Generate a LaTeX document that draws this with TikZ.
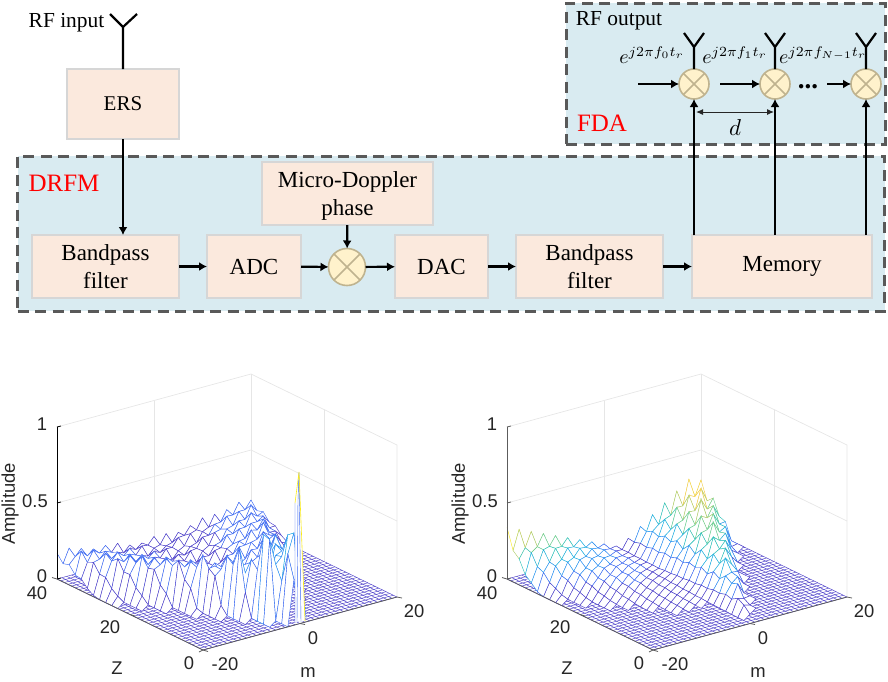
\documentclass[tikz,border=0pt]{standalone}
\usepackage{fontspec}
\setmainfont{Liberation Serif}
\newfontfamily\plotfont{Liberation Sans}
\usetikzlibrary{arrows.meta,calc}
\definecolor{panel}{HTML}{D9EBF1}
\definecolor{dashc}{HTML}{595959}
\definecolor{boxfill}{HTML}{FBE9DD}
\definecolor{boxline}{HTML}{D6D6D6}
\definecolor{mixfill}{HTML}{FFF2CC}
\definecolor{mixline}{HTML}{BFB38F}
\definecolor{gridc}{HTML}{E6E6E6}
\definecolor{tickc}{HTML}{262626}
\definecolor{pc0}{rgb}{.27,.22,.78}
\definecolor{pc1}{rgb}{.22,.40,.95}
\definecolor{pc2}{rgb}{.13,.55,.95}
\definecolor{pc3}{rgb}{.10,.68,.88}
\definecolor{pc4}{rgb}{.15,.75,.72}
\definecolor{pc5}{rgb}{.40,.80,.55}
\definecolor{pc6}{rgb}{.68,.80,.40}
\definecolor{pc7}{rgb}{.95,.80,.25}
\definecolor{pc8}{rgb}{.98,.92,.10}
\tikzset{
  panelbox/.style={draw=dashc,fill=panel,line width=3pt,dash pattern=on 11pt off 6.5pt},
  block/.style={draw=boxline,fill=boxfill,line width=2pt,align=center,inner sep=0pt,outer sep=0pt,
    font=\fontsize{23}{28}\selectfont},
  mixer/.style={circle,draw=mixline,fill=mixfill,line width=1.6pt,inner sep=0pt,outer sep=0pt,
    path picture={\draw[mixline,line width=1.6pt]
      (path picture bounding box.north west)--(path picture bounding box.south east)
      (path picture bounding box.north east)--(path picture bounding box.south west);}},
  conn/.style={-{Latex[length=8pt,width=9pt]},line width=2.2pt,black},
  plain/.style={line width=2.2pt,black},
  lab/.style={inner sep=0pt,outer sep=0pt,font=\fontsize{21.4}{26}\selectfont},
  redlab/.style={inner sep=0pt,outer sep=0pt,text=red,font=\fontsize{25}{28}\selectfont},
  ptext/.style={inner sep=0pt,outer sep=0pt,text=tickc,font=\plotfont\fontsize{18.4}{20}\selectfont},
  gridl/.style={gridc,line width=.7pt},
  meshl/.style={line width=.42pt},
}
% flat floor of a surface plot; #1 x offset
\newcommand\floormesh[1]{%
  \begin{scope}[shift={(#1,0)}]
    \fill[white] (653,650)--(847,597)--(701,526)--(507,579)--cycle;
    \foreach \t in {0,...,40}{%
      \pgfmathsetmacro\ax{653+194*\t/40}\pgfmathsetmacro\ay{650-53*\t/40}%
      \pgfmathsetmacro\bx{\ax-146}\pgfmathsetmacro\by{\ay-71}%
      \draw[pc0,meshl] (\ax,\ay)--(\bx,\by);
      \pgfmathsetmacro\ax{653-146*\t/40}\pgfmathsetmacro\ay{650-71*\t/40}%
      \pgfmathsetmacro\bx{\ax+194}\pgfmathsetmacro\by{\ay-53}%
      \draw[pc0,meshl] (\ax,\ay)--(\bx,\by);
    }
  \end{scope}}
% raised lattice; #1 x offset, #2 height law (\uu,\vv,\sq,\k,\n -> \zz), #3 colour range
\newcommand\wallmesh[3]{%
  \foreach \n in {0,...,24}{\foreach \k in {0,...,16}{%
    \pgfmathsetmacro\uu{\k/16}\pgfmathsetmacro\vv{1-\n/24}%
    \pgfmathsetmacro\sq{(\uu-.5)/max(\vv,.02)}%
    #2%
    \pgfmathsetmacro\px{653+#1+194*\uu-146*\vv}%
    \pgfmathsetmacro\py{650-53*\uu-71*\vv-152*\zz}%
    \expandafter\xdef\csname X\k-\n\endcsname{\px}%
    \expandafter\xdef\csname Y\k-\n\endcsname{\py}%
    \expandafter\xdef\csname Z\k-\n\endcsname{\zz}%
  }}%
  \foreach \k in {15,14,...,0}{%
    \pgfmathtruncatemacro\ka{\k+1}%
    \pgfmathtruncatemacro\lev{min(8,8*(\csname Z\k-0\endcsname+\csname Z\k-1\endcsname+\csname Z\ka-0\endcsname)/3/#3)}%
    \fill[white] (\csname X\k-0\endcsname,\csname Y\k-0\endcsname)--(\csname X\k-1\endcsname,\csname Y\k-1\endcsname)--(\csname X\ka-0\endcsname,\csname Y\ka-0\endcsname)--cycle;
    \draw[pc\lev,meshl] (\csname X\k-0\endcsname,\csname Y\k-0\endcsname)--(\csname X\k-1\endcsname,\csname Y\k-1\endcsname)--(\csname X\ka-0\endcsname,\csname Y\ka-0\endcsname);
  }%
  \foreach \n in {1,2,...,23}{\foreach \k in {15,14,...,0}{%
    \pgfmathtruncatemacro\ka{\k+1}\pgfmathtruncatemacro\na{\n+1}\pgfmathtruncatemacro\nb{\n-1}%
    \pgfmathsetmacro\zm{max(\csname Z\k-\n\endcsname,\csname Z\k-\na\endcsname,\csname Z\ka-\n\endcsname,\csname Z\ka-\nb\endcsname)}%
    \pgfmathtruncatemacro\vis{\zm>.006}%
    \ifnum\vis=1
      \pgfmathtruncatemacro\lev{min(8,8*(\csname Z\k-\n\endcsname+\csname Z\k-\na\endcsname+\csname Z\ka-\n\endcsname+\csname Z\ka-\nb\endcsname)/4/#3)}%
      \filldraw[draw=pc\lev,fill=white,meshl]
        (\csname X\k-\n\endcsname,\csname Y\k-\n\endcsname)--
        (\csname X\k-\na\endcsname,\csname Y\k-\na\endcsname)--
        (\csname X\ka-\n\endcsname,\csname Y\ka-\n\endcsname)--
        (\csname X\ka-\nb\endcsname,\csname Y\ka-\nb\endcsname)--cycle;
    \fi
  }}%
}
\newcommand\plotwalls[1]{%
  \begin{scope}[shift={(#1,0)}]
    \draw[gridl] (507,427)--(701,374)--(847,445)--(847,597);
    \draw[gridl] (507,503)--(701,450)--(847,521);
    \draw[gridl] (701,374)--(701,526);
    \draw[gridl] (604,400.5)--(604,552.5);
    \draw[gridl] (774,409.5)--(774,561.5);
  \end{scope}}
\newcommand\plotlabels[3]{%
  \begin{scope}[shift={(#1,0)}]
    \draw[#3,line width=.8pt] (507,427)--(507,579);
    \draw[#3,line width=.8pt] (507,427)--(511,426) (507,503)--(511,502) (507,579)--(511,578);
    \draw[tickc!75,line width=.8pt] (507,579)--(653,650)--(847,597);
    \draw[tickc!75,line width=.8pt] (653,650)--(658,651.5) (580,614.5)--(585,616) (507,579)--(502,577.5);
    \draw[tickc!75,line width=.8pt] (653,650)--(649,652) (750,623.5)--(755,624.5) (847,597)--(852,598);
    \node[ptext] (#2a) at (460,504) [rotate=90] {Amplitude};
    \node[ptext] (#2b) at (492,424) {1};
    \node[ptext] (#2c) at (485,501) {0.5};
    \node[ptext] (#2d) at (492,576) {0};
    \node[ptext] (#2e) at (487,593) {40};
    \node[ptext] (#2f) at (560,627) {20};
    \node[ptext] (#2g) at (639,663) {0};
    \node[ptext] (#2h) at (567,668) {Z};
    \node[ptext] (#2i) at (675,664) {-20};
    \node[ptext] (#2j) at (763,638) {0};
    \node[ptext] (#2k) at (864,611) {20};
    \node[ptext] (#2l) at (758,673) {m};
  \end{scope}}
\begin{document}
\begin{tikzpicture}[x=1pt,y=-1pt]
\useasboundingbox (0,0) rectangle (888,681);
\node[panelbox,minimum width=867pt,minimum height=155pt,inner sep=0pt] (drfm) at (451,233.5) {};
\node[panelbox,minimum width=319pt,minimum height=141pt,inner sep=0pt] (fda) at (725.5,73.5) {};
\node[redlab] (drfmlab) at (64,183) {DRFM};
\node[redlab] (fdalab) at (602,123) {FDA};
\node[block,minimum width=112pt,minimum height=70pt,font=\fontsize{21}{26}\selectfont] (ers) at (123,104) {ERS};
\node[block,minimum width=147pt,minimum height=63pt] (bp1) at (105.5,266.5) {Bandpass\\filter};
\node[block,minimum width=94pt,minimum height=63pt] (adc) at (254,266.5) {ADC};
\node[mixer,minimum size=37pt] (mix) at (347,267) {};
\node[block,minimum width=171pt,minimum height=63pt] (micro) at (347.5,193.5) {\rule{0pt}{21pt}Micro-Doppler\\phase};
\node[block,minimum width=93pt,minimum height=63pt] (dac) at (441.5,266.5) {DAC};
\node[block,minimum width=147pt,minimum height=63pt] (bp2) at (589.5,266.5) {Bandpass\\filter};
\node[block,minimum width=180pt,minimum height=63pt] (mem) at (782,266.5) {Memory};
\node[mixer,minimum size=30pt] (mix0) at (694,84) {};
\node[mixer,minimum size=30pt] (mix1) at (775,84) {};
\node[mixer,minimum size=30pt] (mix2) at (866,84) {};
\node[lab] (rfin) at (66.5,23) {RF input};
\node[lab] (rfout) at (619,21) {RF output};
\node[inner sep=0pt,scale=2] (e0) at (652,55) {$e^{j2\pi f_0t_r}$};
\node[inner sep=0pt,scale=2] (e1) at (735,55) {$e^{j2\pi f_1t_r}$};
\node[inner sep=0pt,scale=2] (e2) at (823,55) {$e^{j2\pi f_{N-1}t_r}$};
\node[inner sep=0pt,scale=2.3] (dl) at (735,128) {$d$};
\node[inner sep=0pt,anchor=base,font=\bfseries\fontsize{27}{30}\selectfont] (dots) at (808,88) {...};
\coordinate (antin) at (123,27);
\draw[plain] (ers.north)--(antin) (110,14)--(antin)--(137,14);
\coordinate (ant0) at (694,47);
\coordinate (ant1) at (775,47);
\coordinate (ant2) at (866,47);
\foreach \a/\m in {ant0/mix0,ant1/mix1,ant2/mix2}{
  \draw[plain] (\m.north)--(\a) ($(\a)+(-10,-14)$)--(\a)--($(\a)+(10,-14)$);
}
\draw[conn] (ers.south)--(ers.south |- bp1.north);
\draw[conn] (bp1)--(adc);
\draw[conn] (adc)--(mix);
\draw[conn] (mix)--(dac);
\draw[conn] (dac)--(bp2);
\draw[conn] (bp2)--(mem);
\draw[conn] (micro)--(mix);
\draw[conn] (mem.north -| mix0)--(mix0.south);
\draw[conn] (mem.north -| mix1)--(mix1.south);
\draw[conn] (mem.north -| mix2)--(mix2.south);
\coordinate (in0) at (638,84);
\coordinate (in1) at (720,84);
\coordinate (in2) at (827,84);
\draw[conn] (in0)--(mix0);
\draw[conn] (in1)--(mix1);
\draw[conn] (in2)--(mix2);
\coordinate (dleft) at (696,112);
\coordinate (dright) at (774,112);
\draw[{Latex[length=7pt,width=6pt]}-{Latex[length=7pt,width=6pt]},line width=1pt,tickc] (dleft)--(dright);
% ---------- left plot
\plotwalls{-450}
\floormesh{-450}
\wallmesh{-450}{%
  \pgfmathsetmacro\wq{max(0,min(1,(.68-abs(\sq))/.2))^1.3}%
  \pgfmathsetmacro\aq{.09+.3*abs(\sq)^1.5}%
  \pgfmathsetmacro\nq{1+.2*sin(97*\k+131*\n)*max(0,1-abs(\sq)/.5)}%
  \pgfmathsetmacro\rq{1-.22*mod(\n,2)}%
  \pgfmathsetmacro\zz{\wq*\aq*\nq*\rq/max(\vv,.12)^.65}%
}{1}
\fill[white] (295,622)--(295,503)--(299,472)--(305,621)--cycle;
\draw[pc1,meshl] (295,622)--(295,503) (297,622)--(298,500)--(299,472) (301,622)--(299,472);
\draw[pc8,line width=.6pt] (295,503)--(299,472)--(305,621);
% ---------- right plot
\plotwalls{0}
\floormesh{0}
\wallmesh{0}{%
  \pgfmathsetmacro\vq{\uu<.5?.75*(1-2*\uu):0}%
  \pgfmathsetmacro\tq{max(0,(\vv-\vq)/max(1-\vq,.05))}%
  \pgfmathsetmacro\za{.34*max(0,1-\uu/.6)*\tq^1.7}%
  \pgfmathsetmacro\gq{\sq<.07?0:(\sq<.46?(\sq-.07)/.39:(\sq<.62?sqrt(max(0,(.62-\sq)/.16)):0))}%
  \pgfmathsetmacro\zb{.35*\vv^.8*\gq}%
  \pgfmathsetmacro\rq{1-(\sq>.25?.3:.17)*mod(\n,2)}%
  \pgfmathsetmacro\zz{max(\za,\zb)*\rq}%
}{.27}
\plotlabels{-450}{L}{black}
\plotlabels{0}{R}{tickc!75}
\end{tikzpicture}
\end{document}
